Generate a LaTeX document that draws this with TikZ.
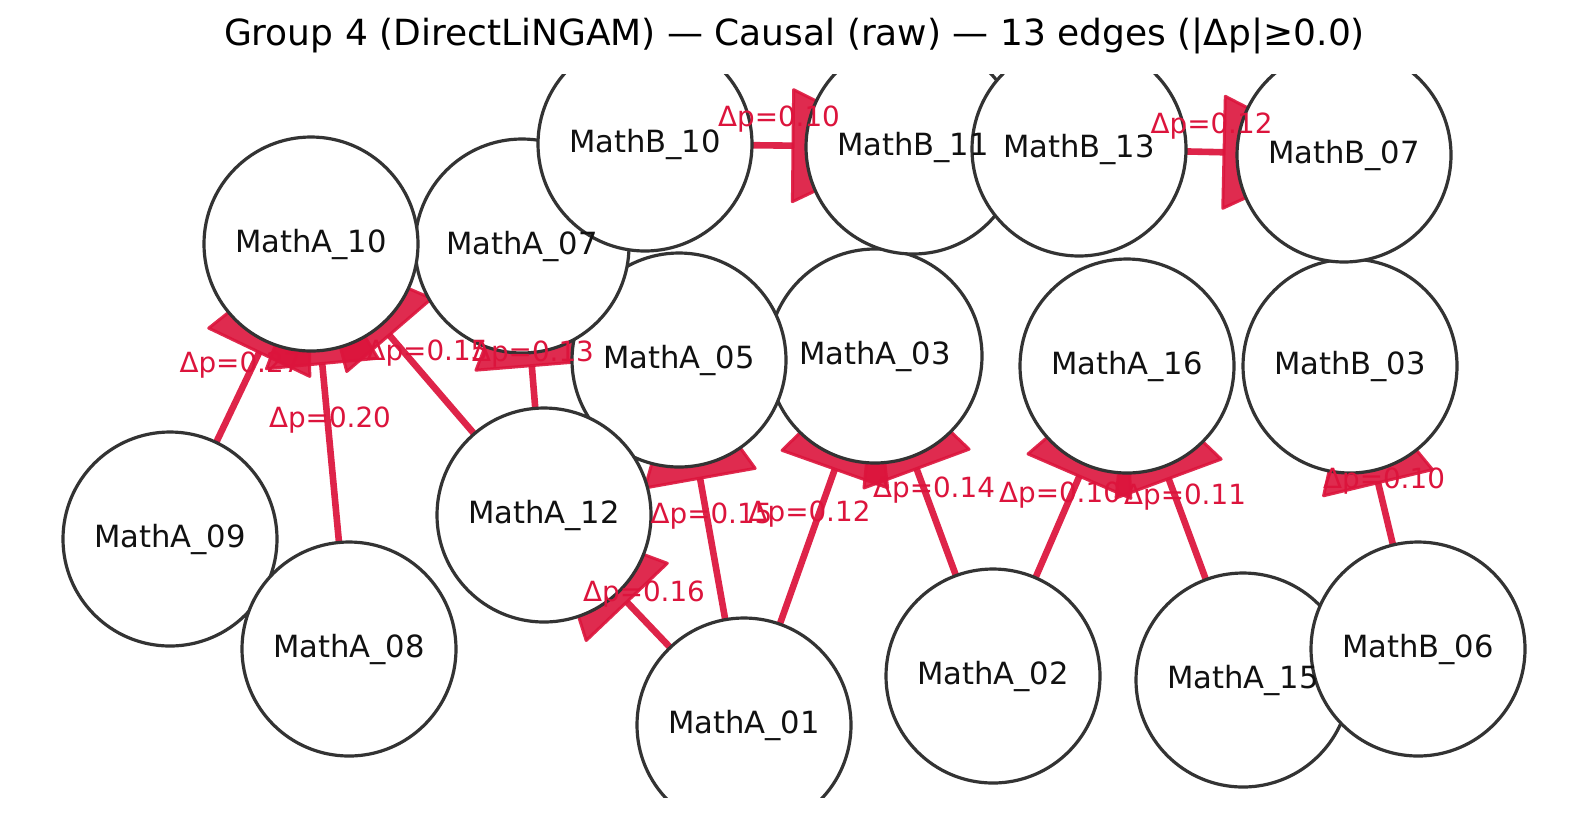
\documentclass[tikz,border=0pt]{standalone}
\usepackage{fontspec}
\setmainfont{DejaVu Sans}
\usetikzlibrary{calc}
\definecolor{crim}{HTML}{DC143C}
\definecolor{ndraw}{HTML}{333333}
\definecolor{ntext}{HTML}{111111}
\newcommand\causaledge[3]{%
  \coordinate (#1-#2-b) at ($(#2.center)!60pt!(#1.center)$);
  \coordinate (#1-#2-t) at ($(#2.center)!2.5pt!(#1.center)$);
  \draw[edgeline] (#1.center) -- (#1-#2-b);
  \filldraw[arrowhead] (#1-#2-t) -- ($(#1-#2-b)!28pt!90:(#1-#2-t)$) -- ($(#1-#2-b)!28pt!-90:(#1-#2-t)$) -- cycle;
}
\newcommand\causallabel[3]{%
  \node[elabel] (l-#1-#2) at ($(#1.center)!0.5!(#2.center)+(0,-26)$) {Δp=#3};
}
\begin{document}
\begin{tikzpicture}[x=0.5pt,y=-0.5pt,
  anchorpt/.style={circle, minimum size=107pt, inner sep=0pt, outer sep=0pt},
  circ/.style={circle, minimum size=107pt, inner sep=0pt, outer sep=0pt, draw=ndraw, line width=1.6pt, fill=white},
  nlabel/.style={font=\fontsize{15.3}{18}\selectfont, text=ntext, inner sep=0pt},
  elabel/.style={font=\fontsize{13.9}{16}\selectfont, text=crim, inner sep=0pt},
  edgeline/.style={draw=crim, draw opacity=0.93, line width=3.3pt},
  arrowhead/.style={fill=crim, draw=crim, fill opacity=0.9, draw opacity=0.9, line width=1.5pt, line join=round},
  titlestyle/.style={font=\fontsize{18}{22}\selectfont, text=black, inner sep=0pt}
]
\useasboundingbox[fill=white] (0,0) rectangle (1589,816);
\node[titlestyle] (title) at (794.5,36) {Group 4 (DirectLiNGAM) — Causal (raw) — 13 edges (|Δp|≥0.0)};
\begin{scope}
\clip (0,74) rectangle (1589,797);
% node positions
\node[anchorpt] (A10) at (311,244) {};
\node[anchorpt] (A07) at (522,246) {};
\node[anchorpt] (B10) at (645,144) {};
\node[anchorpt] (B11) at (913,147) {};
\node[anchorpt] (B13) at (1079,149) {};
\node[anchorpt] (B07) at (1344,155) {};
\node[anchorpt] (A05) at (679,360) {};
\node[anchorpt] (A03) at (875,356) {};
\node[anchorpt] (A16) at (1127,366) {};
\node[anchorpt] (B03) at (1350,366) {};
\node[anchorpt] (A09) at (170,539) {};
\node[anchorpt] (A08) at (349,649) {};
\node[anchorpt] (A12) at (544,515) {};
\node[anchorpt] (A01) at (744,725) {};
\node[anchorpt] (A02) at (993,676) {};
\node[anchorpt] (A15) at (1243,680) {};
\node[anchorpt] (B06) at (1418,649) {};
% edges
\causaledge{A09}{A10}{}
\causaledge{A08}{A10}{}
\causaledge{A12}{A10}{}
\causaledge{A12}{A07}{}
\causaledge{B10}{B11}{}
\causaledge{B13}{B07}{}
\causaledge{A01}{A05}{}
\causaledge{A01}{A03}{}
\causaledge{A02}{A03}{}
\causaledge{A02}{A16}{}
\causaledge{A15}{A16}{}
\causaledge{B06}{B03}{}
\causaledge{A01}{A12}{}
% circles
\node[circ] (cA03) at (A03) {};
\node[circ] (cA05) at (A05) {};
\node[circ] (cA07) at (A07) {};
\node[circ] (cA10) at (A10) {};
\node[circ] (cB10) at (B10) {};
\node[circ] (cA12) at (A12) {};
\node[circ] (cB11) at (B11) {};
\node[circ] (cB13) at (B13) {};
\node[circ] (cA09) at (A09) {};
\node[circ] (cA08) at (A08) {};
\node[circ] (cA01) at (A01) {};
\node[circ] (cA02) at (A02) {};
\node[circ] (cA16) at (A16) {};
\node[circ] (cB03) at (B03) {};
\node[circ] (cB07) at (B07) {};
\node[circ] (cA15) at (A15) {};
\node[circ] (cB06) at (B06) {};
\end{scope}
% node labels
\node[nlabel] (tA10) at (A10) {MathA\_10};
\node[nlabel] (tA07) at (A07) {MathA\_07};
\node[nlabel] (tB10) at (B10) {MathB\_10};
\node[nlabel] (tB11) at (B11) {MathB\_11};
\node[nlabel] (tB13) at (B13) {MathB\_13};
\node[nlabel] (tB07) at (B07) {MathB\_07};
\node[nlabel] (tA05) at (A05) {MathA\_05};
\node[nlabel] (tA03) at (A03) {MathA\_03};
\node[nlabel] (tA16) at (A16) {MathA\_16};
\node[nlabel] (tB03) at (B03) {MathB\_03};
\node[nlabel] (tA09) at (A09) {MathA\_09};
\node[nlabel] (tA08) at (A08) {MathA\_08};
\node[nlabel] (tA12) at (A12) {MathA\_12};
\node[nlabel] (tA01) at (A01) {MathA\_01};
\node[nlabel] (tA02) at (A02) {MathA\_02};
\node[nlabel] (tA15) at (A15) {MathA\_15};
\node[nlabel] (tB06) at (B06) {MathB\_06};
% edge labels
\causallabel{A09}{A10}{0.27}
\causallabel{A08}{A10}{0.20}
\causallabel{A12}{A10}{0.15}
\causallabel{A12}{A07}{0.13}
\causallabel{B10}{B11}{0.10}
\causallabel{B13}{B07}{0.12}
\causallabel{A01}{A05}{0.15}
\causallabel{A01}{A03}{0.12}
\causallabel{A02}{A03}{0.14}
\causallabel{A02}{A16}{0.10}
\causallabel{A15}{A16}{0.11}
\causallabel{B06}{B03}{0.10}
\causallabel{A01}{A12}{0.16}
\end{tikzpicture}
\end{document}
